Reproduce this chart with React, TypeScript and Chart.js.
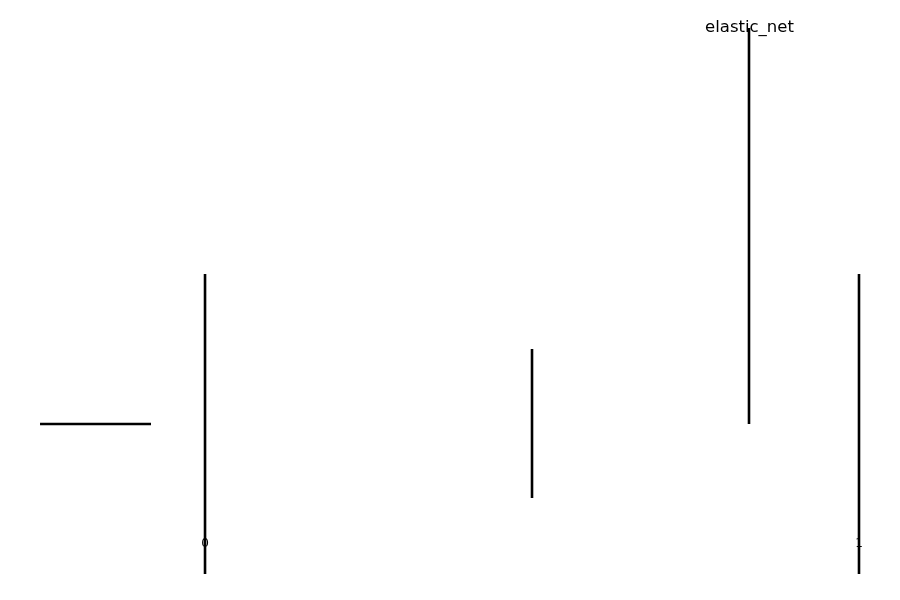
import React, { useEffect, useRef } from "react";
import { Chart, registerables } from "chart.js";

Chart.register(...registerables);

// Each segment: x start/end and y start/end (data units)
const segmentXs: number[][] = [
  [-0.2523, -0.0826],
  [0, 0],
  [0.5, 0.5],
  [0.8318, 0.8318],
  [1, 1],
];
const segmentYs: number[][] = [
  [1.5, 1.5],
  [0, 3.0],
  [0.76, 2.25],
  [1.5, 5.46],
  [0, 3.0],
];
const tickValues = [0, 1];
const labelText = "elastic_net";
const labelX = 0.8318;
const labelY = 5.46;

export default function App() {
  const ref = useRef<HTMLCanvasElement | null>(null);
  useEffect(() => {
    if (!ref.current) return;
    const datasets = segmentXs.map((xs, i) => ({
      data: xs.map((x, j) => ({ x, y: segmentYs[i][j] })),
      showLine: true,
      borderColor: "#000",
      borderWidth: 2.6,
      pointRadius: 0,
      clip: false as any,
      fill: false,
    }));
    const labelPlugin = {
      id: "segLabel",
      beforeDatasetsDraw(chart: any) {
        const ctx = chart.ctx;
        const xs = chart.scales.x;
        const ys = chart.scales.y;
        ctx.save();
        ctx.font = "16.5px 'DejaVu Sans', sans-serif";
        ctx.fillStyle = "#000";
        ctx.textAlign = "center";
        ctx.textBaseline = "middle";
        ctx.fillText(labelText, xs.getPixelForValue(labelX) + 0.5, ys.getPixelForValue(labelY));
        ctx.restore();
      },
    };
    const chart = new Chart(ref.current, {
      type: "scatter",
      data: { datasets },
      options: {
        animation: false,
        responsive: false,
        layout: { padding: { top: 0, left: 0, right: 0, bottom: 46.6 } },
        plugins: { legend: { display: false }, tooltip: { enabled: false } },
        scales: {
          x: {
            type: "linear",
            min: -0.3135,
            max: 1.0627,
            grid: { display: false, drawTicks: false, tickLength: 0 },
            border: { display: false },
            afterBuildTicks: (scale: any) => {
              scale.ticks = tickValues.map((v) => ({ value: v }));
            },
            ticks: {
              padding: 2,
              color: "#000",
              font: { family: "'DejaVu Sans', sans-serif", size: 12 },
              maxRotation: 0,
              autoSkip: false,
            },
          },
          y: {
            type: "linear",
            display: false,
            min: 0.39,
            max: 5.74,
          },
        },
      },
      plugins: [labelPlugin],
    });
    return () => chart.destroy();
  }, []);
  return (
    <div style={{ position: "fixed", left: 0, top: 0, width: 900, height: 600, background: "#fff" }}>
      <canvas ref={ref} width={900} height={600} />
    </div>
  );
}
